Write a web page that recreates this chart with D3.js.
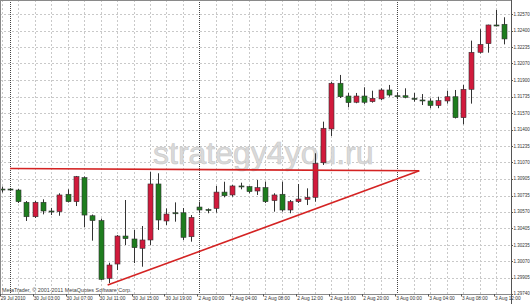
<!DOCTYPE html>
<html><head><meta charset="utf-8">
<script src="https://cdn.jsdelivr.net/npm/d3@7"></script>
<style>html,body{margin:0;padding:0;background:#fff;overflow:hidden}svg{display:block}</style>
</head><body>
<svg id="c" width="530" height="304"></svg>
<script>
// ---- data (EURUSD H1, 29 Jul 2010 23:00 .. 3 Aug 2010 13:00) ----
const open = [1.30801,1.30801,1.30791,1.30667,1.30521,1.30667,1.30579,1.30572,1.30748,1.30673,
1.30916,1.30531,1.30482,1.29898,1.30043,1.30326,1.30296,1.30202,1.30286,1.30852,
1.30478,1.30561,1.30561,1.30319,1.30619,1.30594,1.30605,1.30770,1.30741,1.30832,
1.30825,1.30781,1.30815,1.30684,1.30748,1.30589,1.30673,1.30697,1.30717,1.31067,
1.31408,1.31870,1.31741,1.31678,1.31741,1.31684,1.31712,1.31802,1.31744,1.31744,
1.31718,1.31701,1.31691,1.31645,1.31691,1.31734,1.31522,1.31809,1.32183,1.32270,
1.32459,1.32466];
const high = [1.30826,1.30811,1.30801,1.30680,1.30680,1.30697,1.30610,1.30758,1.30798,1.30933,
1.30928,1.30543,1.30502,1.30056,1.30336,1.30690,1.30387,1.30427,1.30976,1.30960,
1.30605,1.30666,1.30609,1.30538,1.30673,1.30605,1.30832,1.30875,1.30842,1.30865,
1.30832,1.30892,1.30875,1.30758,1.30875,1.30690,1.30852,1.30808,1.31162,1.31482,
1.31883,1.31954,1.31772,1.31772,1.31829,1.31795,1.31819,1.31853,1.31772,1.31819,
1.31772,1.31761,1.31718,1.31734,1.31795,1.31802,1.31853,1.32301,1.32416,1.32462,
1.32611,1.32537];
const low = [1.30766,1.30786,1.30660,1.30478,1.30508,1.30545,1.30538,1.30531,1.30665,1.30629,
1.30414,1.30279,1.29881,1.29850,1.29982,1.30235,1.30053,1.30016,1.30235,1.30387,
1.30437,1.30471,1.30286,1.30269,1.30556,1.30556,1.30562,1.30717,1.30723,1.30798,
1.30758,1.30741,1.30660,1.30572,1.30572,1.30556,1.30660,1.30639,1.30673,1.31044,
1.31337,1.31721,1.31627,1.31668,1.31661,1.31674,1.31701,1.31734,1.31709,1.31718,
1.31684,1.31650,1.31618,1.31618,1.31664,1.31514,1.31455,1.31664,1.32171,1.32179,
1.32444,1.32263];
const close = [1.30796,1.30800,1.30673,1.30521,1.30667,1.30579,1.30578,1.30741,1.30673,1.30926,
1.30538,1.30482,1.29888,1.30033,1.30326,1.30299,1.30208,1.30286,1.30852,1.30488,
1.30548,1.30560,1.30313,1.30515,1.30589,1.30589,1.30770,1.30733,1.30832,1.30831,
1.30775,1.30815,1.30673,1.30741,1.30589,1.30673,1.30700,1.30717,1.31061,1.31415,
1.31870,1.31734,1.31674,1.31741,1.31678,1.31718,1.31802,1.31751,1.31743,1.31728,
1.31708,1.31700,1.31645,1.31694,1.31734,1.31522,1.31809,1.32183,1.32263,1.32459,
1.32458,1.32318];
const xTickBars = [0,4,8,12,16,20,24,28,32,36,40,44,48,52,56,60];
const xTickLabels = ["29 Jul 2010","30 Jul 03:00","30 Jul 07:00","30 Jul 11:00","30 Jul 15:00","30 Jul 19:00",
"2 Aug 00:00","2 Aug 04:00","2 Aug 08:00","2 Aug 12:00","2 Aug 16:00","2 Aug 20:00",
"3 Aug 00:00","3 Aug 04:00","3 Aug 08:00","3 Aug 12:00"];
const yTickLabels = ["1.32570","1.32400","1.32235","1.32070","1.31900","1.31735","1.31570","1.31400","1.31235",
"1.31070","1.30905","1.30735","1.30570","1.30405","1.30235","1.30070","1.29905","1.29740"];
const daySeparators = [1,24,48];
const supportLine = [[12.86,1.29830],[50.68,1.30986]];
const resistanceLine = [[1.0,1.31008],[50.68,1.30986]];
const watermark = "strategy4you.ru";
const copyright = "MetaTrader, \u00A9 2001-2011 MetaQuotes Software Corp.";

// ---- drawing ----
const svg = d3.select("#c");
const W = 511, H = 294;
const x = d3.scaleLinear().domain([0,61]).range([1.7,504.3]);
const y = d3.scaleLinear().domain([1.29740,1.32570]).range([294,14]);
const font = "Liberation Sans, Arial, sans-serif";

// grid
const g = svg.append("g");
g.selectAll("line.h").data(yTickLabels).join("line")
  .attr("x1",0).attr("x2",W).attr("y1",d=>Math.round(y(+d))+0.5).attr("y2",d=>Math.round(y(+d))+0.5)
  .attr("stroke","#c9c9c9").attr("stroke-dasharray","2,2");
const gridBars = d3.range(0,62,2).filter(i=>!daySeparators.includes(i));
g.selectAll("line.v").data(gridBars).join("line")
  .attr("x1",d=>Math.round(x(d))+0.5).attr("x2",d=>Math.round(x(d))+0.5).attr("y1",0).attr("y2",H)
  .attr("stroke","#c9c9c9").attr("stroke-dasharray","2,2");
g.selectAll("line.s").data(daySeparators).join("line")
  .attr("x1",d=>Math.round(x(d))+0.5).attr("x2",d=>Math.round(x(d))+0.5).attr("y1",0).attr("y2",H)
  .attr("stroke","#444").attr("stroke-dasharray","1,1");

// watermark
svg.append("text").attr("x",153).attr("y",164).text(watermark)
  .attr("font-family",font).attr("font-size",32).attr("fill","#dadada")
  .attr("stroke","#c8c8c8").attr("stroke-width",0.6);

// candles
const idx = d3.range(open.length);
const cg = svg.append("g");
cg.selectAll("line.w").data(idx).join("line")
  .attr("x1",i=>Math.round(x(i))+0.5).attr("x2",i=>Math.round(x(i))+0.5)
  .attr("y1",i=>y(high[i])).attr("y2",i=>y(low[i]))
  .attr("stroke","#333").attr("stroke-width",1);
cg.selectAll("rect").data(idx).join("rect")
  .attr("x",i=>Math.round(x(i))-2)
  .attr("width",5)
  .attr("y",i=>y(Math.max(open[i],close[i])))
  .attr("height",i=>Math.max(1,Math.abs(y(open[i])-y(close[i]))))
  .attr("fill",i=>close[i]>open[i]?"#d11a3c":"#1e7d1e")
  .attr("stroke","#333")
  .attr("stroke-width",0.6);

// trend lines
const ln = d3.line().x(d=>x(d[0])).y(d=>y(d[1]));
[supportLine,resistanceLine].forEach(l=>{
  svg.append("path").attr("d",ln(l)).attr("fill","none").attr("stroke","#d42323").attr("stroke-width",1.6);
});

// frame
svg.append("rect").attr("x",0.5).attr("y",0.5).attr("width",W).attr("height",H)
  .attr("fill","none").attr("stroke","#8a8a8a");
svg.append("line").attr("x1",W+0.5).attr("x2",W+0.5).attr("y1",0).attr("y2",304).attr("stroke","#555");

// y axis labels
const ya = svg.append("g");
ya.selectAll("line").data(yTickLabels).join("line")
  .attr("x1",W).attr("x2",W+2).attr("y1",d=>Math.round(y(+d))+0.5).attr("y2",d=>Math.round(y(+d))+0.5)
  .attr("stroke","#555");
ya.selectAll("text").data(yTickLabels).join("text")
  .attr("x",W+2.5).attr("y",(d,i)=>i===yTickLabels.length-1?y(+d)-1:y(+d)).attr("dy","0.35em").text(d=>d)
  .attr("font-family",font).attr("font-size",4.5).attr("fill","#333");

// x axis labels
const xa = svg.append("g");
xa.selectAll("text").data(xTickBars).join("text")
  .attr("x",(d,i)=>x(d)-1).attr("y",300).text((d,i)=>xTickLabels[i])
  .attr("font-family",font).attr("font-size",4.8).attr("fill","#333");
xa.selectAll("line").data(xTickBars).join("line")
  .attr("x1",d=>Math.round(x(d))-1.5).attr("x2",d=>Math.round(x(d))-1.5).attr("y1",H).attr("y2",H+2.5)
  .attr("stroke","#555");

// copyright
svg.append("text").attr("x",2).attr("y",291.5).text(copyright)
  .attr("font-family",font).attr("font-size",5.4).attr("fill","#444");
</script>
</body></html>
